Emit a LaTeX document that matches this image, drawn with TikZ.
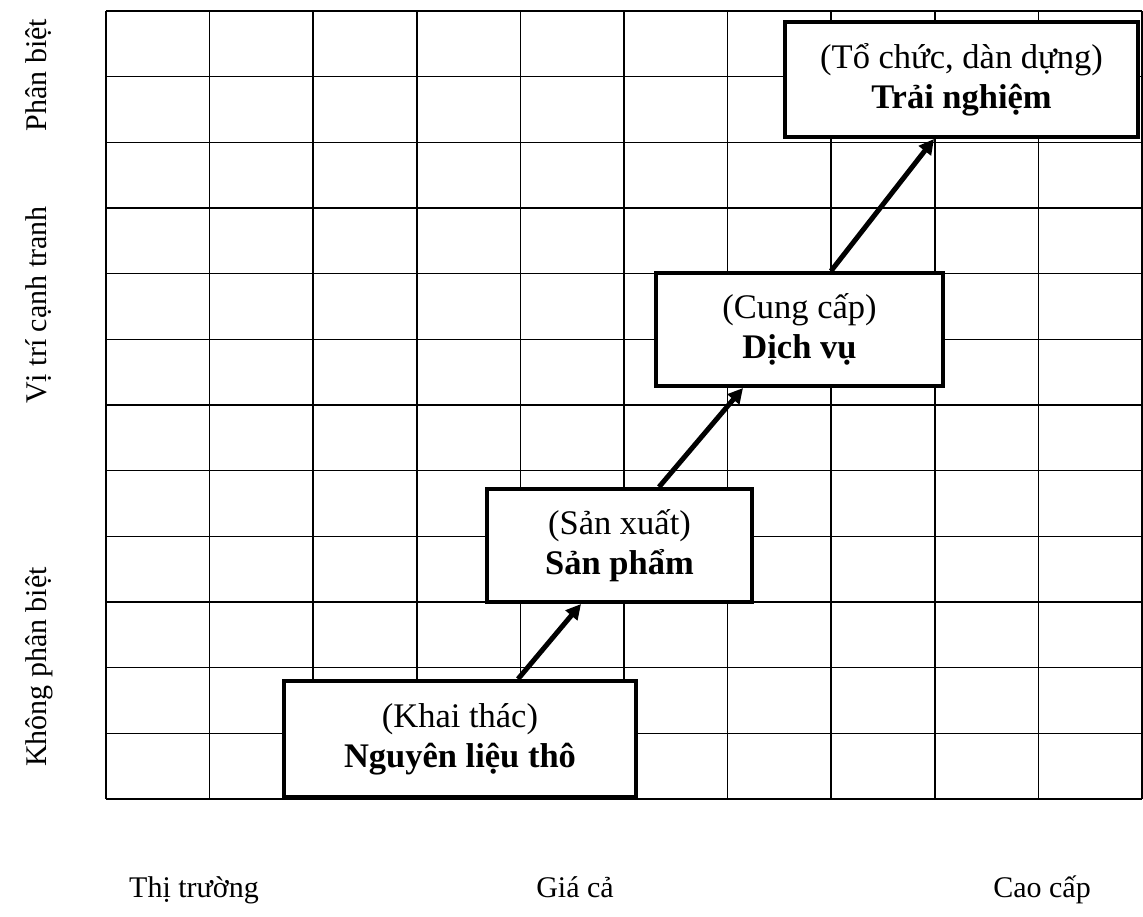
\documentclass[tikz,border=0pt]{standalone}
\usepackage{fontspec}
\setmainfont{Liberation Serif}
\usetikzlibrary{arrows.meta}
\begin{document}
\begin{tikzpicture}[x=1pt,y=-1pt,
  gridline/.style={line width=1.6pt},
  stagebox/.style={draw,line width=4pt,fill=white,align=center,inner sep=0pt,
    font=\fontsize{34.5pt}{40pt}\selectfont},
  flow/.style={line width=5pt,-{Triangle[length=15pt,width=15pt]}},
  axislabel/.style={font=\fontsize{30pt}{36pt}\selectfont,inner sep=0pt,anchor=base}]
\useasboundingbox (0,0) rectangle (1143,916);
% grid: 10 columns x 12 rows
\foreach \i in {0,...,10}
  \draw[gridline] ({106+\i*103.6},11) -- ({106+\i*103.6},799);
\foreach \j in {0,...,12}
  \draw[gridline] (106,{11+\j*65.667}) -- (1142,{11+\j*65.667});
% stages
\node[stagebox,minimum width=352pt,minimum height=116pt] (raw) at (460,739)
  {(Khai thác)\\\textbf{Nguyên liệu thô}};
\node[stagebox,minimum width=265pt,minimum height=113pt] (prod) at (619.5,545.5)
  {(Sản xuất)\\\textbf{Sản phẩm}};
\node[stagebox,minimum width=287pt,minimum height=113pt] (serv) at (799.5,329.5)
  {(Cung cấp)\\\textbf{Dịch vụ}};
\node[stagebox,minimum width=353pt,minimum height=115pt] (exp) at (961.5,79.5)
  {(Tổ chức, dàn dựng)\\\textbf{Trải nghiệm}};
% progression arrows
\draw[flow] ([xshift=236pt]raw.north west) -- ([xshift=96pt]prod.south west);
\draw[flow] ([xshift=174pt]prod.north west) -- ([xshift=89pt]serv.south west);
\draw[flow] ([xshift=177pt]serv.north west) -- ([xshift=151pt]exp.south west);
% axis labels
\node[axislabel,rotate=90] (ydiff) at (46,75) {Phân biệt};
\node[axislabel,rotate=90] (ypos) at (46,305) {Vị trí cạnh tranh};
\node[axislabel,rotate=90] (ynodiff) at (46,667) {Không phân biệt};
\node[axislabel] (xmarket) at (194,897) {Thị trường};
\node[axislabel] (xprice) at (575,897) {Giá cả};
\node[axislabel] (xpremium) at (1042,897) {Cao cấp};
\end{tikzpicture}
\end{document}
